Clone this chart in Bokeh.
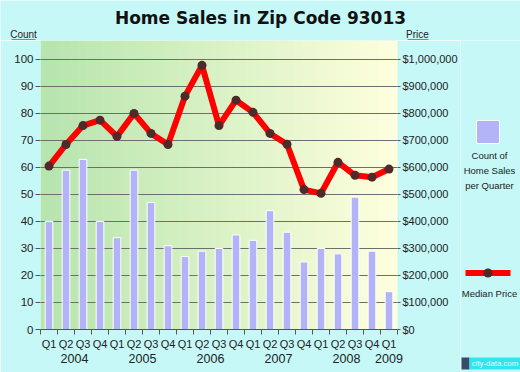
import numpy as np
from bokeh.plotting import figure
from bokeh.layouts import column, row
from bokeh.models import Range1d, LinearAxis, FixedTicker, NumeralTickFormatter
from bokeh.core.properties import value
from bokeh.embed import file_html
from bokeh.resources import INLINE

# ---- data ----
quarters = ["Q1", "Q2", "Q3", "Q4", "Q1", "Q2", "Q3", "Q4", "Q1", "Q2", "Q3", "Q4",
            "Q1", "Q2", "Q3", "Q4", "Q1", "Q2", "Q3", "Q4", "Q1"]
years = ["2004", "2005", "2006", "2007", "2008", "2009"]
year_pos = [1.5, 5.5, 9.5, 13.5, 17.5, 20]
counts = [40, 59, 63, 40, 34, 59, 47, 31, 27, 29, 30, 35, 33, 44, 36, 25, 30, 28, 49, 29, 14]
prices = [605000, 685000, 755000, 775000, 715000, 800000, 726000, 685000, 864000, 978000,
          755000, 849000, 804000, 726000, 686000, 518000, 504000, 619000, 571000, 564000, 594000]
count_ticks = list(range(0, 101, 10))
price_ticks = list(range(0, 1000001, 100000))

idx = list(range(len(quarters)))

BG = "#C6F8F8"
TXT = "#222222"
FONT = "Liberation Sans"
BAR = "#B3B3F7"
RED = "#FF0000"
DOT = "#4E2A2A"


def blank(w, h, xr, yr):
    f = figure(width=w, height=h, output_backend="svg", toolbar_location=None,
               x_range=Range1d(*xr), y_range=Range1d(*yr),
               min_border=0, background_fill_color=BG, border_fill_color=BG,
               outline_line_color=None, frame_align=False)
    f.axis.visible = False
    f.grid.visible = False
    return f


def txt(f, x, y, s, size, bold=False, font=FONT, color=TXT, align="center"):
    f.text(x=[x], y=[y], text=[s], text_align=align, text_baseline="middle",
           text_font=value(font), text_font_size=size,
           text_font_style="bold" if bold else "normal", text_color=color)


# ---- top strip (canvas y 0..40) ----
top = blank(520, 40, (0, 520), (40, 0))
txt(top, 260, 17, "Home Sales in Zip Code 93013", "17px", bold=True, font="DejaVu Sans",
    color="#111111")
txt(top, 23, 34, "Count", "10px")
txt(top, 417, 34, "Price", "10px")
top.segment(x0=[11, 407], y0=[39.5, 39.5], x1=[35, 428], y1=[39.5, 39.5],
            line_color=TXT, line_width=1)

# ---- main chart (canvas x 0..460, y 40..372) ----
p = figure(width=460, height=332, output_backend="svg", toolbar_location=None,
           x_range=Range1d(-0.5, 20.5), y_range=Range1d(0, 107),
           min_border_left=40, min_border_right=60, min_border_top=0, min_border_bottom=43,
           background_fill_color=BG, border_fill_color=BG, outline_line_color=None,
           frame_align=False)
p.xaxis.visible = False
p.yaxis.visible = False
p.xgrid.visible = False
p.ygrid.visible = False
p.extra_y_ranges = {"price": Range1d(0, 1070000)}

# gradient background (style only)
n = 200
c0 = np.array([182, 229, 174], dtype=float)
c1 = np.array([255, 255, 222], dtype=float)
t = np.linspace(0, 1, n)[:, None]
cols = (c0 * (1 - t) + c1 * t).astype(np.uint8)
img = np.zeros((1, n), dtype=np.uint32)
view = img.view(dtype=np.uint8).reshape((1, n, 4))
view[0, :, 0] = cols[:, 0]
view[0, :, 1] = cols[:, 1]
view[0, :, 2] = cols[:, 2]
view[0, :, 3] = 255
p.image_rgba(image=[img], x=-0.5, y=0, dw=21, dh=107)

# grid lines
p.hspan(y=count_ticks[1:], line_color="#6E6E6E", line_width=1)

# bars
p.vbar(x=idx, top=counts, width=0.45, fill_color=BAR, line_color="white", line_width=1)

# price line
p.line(idx, prices, y_range_name="price", line_color=RED, line_width=6, line_join="round")
p.scatter(idx, prices, y_range_name="price", size=9, fill_color=DOT, line_color=None)

# left axis
ly = LinearAxis(ticker=FixedTicker(ticks=count_ticks))
ly.axis_line_color = None
ly.major_tick_line_color = "#555555"
ly.major_tick_out = 5
ly.major_tick_in = 0
ly.minor_tick_line_color = None
ly.major_label_standoff = 2
ly.major_label_text_font = FONT
ly.major_label_text_font_size = "11.5px"
ly.major_label_text_color = TXT
p.add_layout(ly, "left")

# right axis
ry = LinearAxis(y_range_name="price", ticker=FixedTicker(ticks=price_ticks),
                formatter=NumeralTickFormatter(format="$0,0"))
ry.axis_line_color = None
ry.major_tick_line_color = "#555555"
ry.major_tick_out = 3
ry.major_tick_in = 0
ry.minor_tick_line_color = None
ry.major_label_standoff = 2
ry.major_label_text_font = FONT
ry.major_label_text_font_size = "11px"
ry.major_label_text_color = TXT
p.add_layout(ry, "right")

# bottom axis: quarters
qx = LinearAxis(ticker=FixedTicker(ticks=idx, minor_ticks=[i - 0.5 for i in range(len(idx) + 1)]))
qx.major_label_overrides = {i: q for i, q in enumerate(quarters)}
qx.axis_line_color = "#555555"
qx.major_tick_line_color = None
qx.minor_tick_line_color = "#555555"
qx.minor_tick_out = 5
qx.minor_tick_in = 0
qx.major_tick_out = 5
qx.major_label_standoff = 3
qx.major_label_text_font = FONT
qx.major_label_text_font_size = "11px"
qx.major_label_text_color = TXT
p.add_layout(qx, "below")

# bottom axis: years
yx = LinearAxis(ticker=FixedTicker(ticks=year_pos))
yx.major_label_overrides = {v: y for v, y in zip(year_pos, years)}
yx.axis_line_color = None
yx.major_tick_line_color = None
yx.minor_tick_line_color = None
yx.major_tick_out = 0
yx.major_label_standoff = 1
yx.major_label_text_font = FONT
yx.major_label_text_font_size = "12.5px"
yx.major_label_text_color = TXT
p.add_layout(yx, "below")

# ---- side legend (canvas x 460..520, y 40..372) ----
side = blank(60, 332, (460, 520), (372, 40))
side.quad(left=[476], right=[499], top=[120], bottom=[143], fill_color=BAR,
          line_color="white", line_width=1)
txt(side, 489, 155, "Count of", "9.5px")
txt(side, 489, 170, "Home Sales", "9.5px")
txt(side, 489, 185, "per Quarter", "9.5px")
side.segment(x0=[465], y0=[272.5], x1=[510], y1=[272.5], line_color=RED, line_width=6)
side.scatter(x=[487.5], y=[272.5], size=9, fill_color=DOT, line_color=None)
txt(side, 489, 293, "Median Price", "9.5px")
# watermark
side.quad(left=[461], right=[469], top=[357], bottom=[369], fill_color="#3A4A6A", line_color=None)
side.quad(left=[469], right=[520], top=[357], bottom=[369], fill_color="#2EE6F0", line_color=None)
txt(side, 494.5, 363, "city-data.com", "7.8px", color="#EEF8F8")

layout = column(top, row(p, side, spacing=0), spacing=0)
open("out.html", "w").write(file_html(layout, INLINE))
